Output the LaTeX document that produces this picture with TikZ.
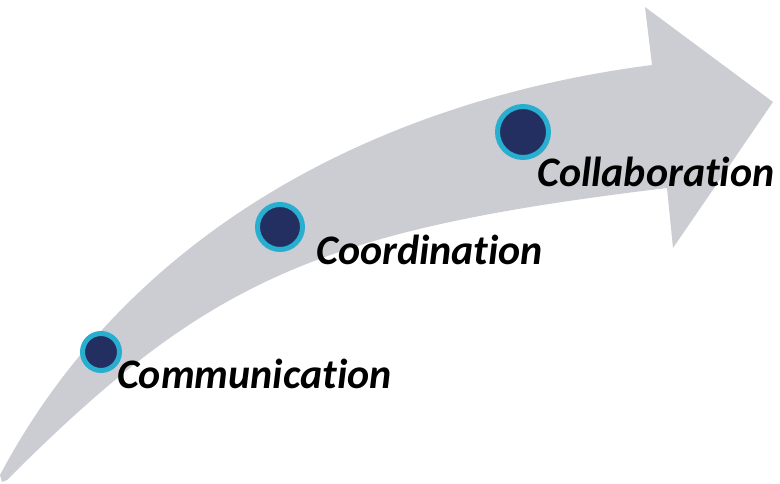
\documentclass[tikz,border=0pt]{standalone}
\usepackage{fontspec}
\setmainfont{Carlito}[Ligatures=NoCommon]
\definecolor{bandgray}{RGB}{204,205,211}
\definecolor{dotnavy}{RGB}{35,47,97}
\definecolor{dotcyan}{RGB}{40,174,206}
\begin{document}
\begin{tikzpicture}[x=1pt,y=-1pt,
  dot/.style={circle,fill=dotnavy,draw=dotcyan,line width=5pt,inner sep=0pt},
  lbl/.style={anchor=base west,inner sep=0pt,font=\fontsize{42}{50}\selectfont\bfseries\itshape}]
\useasboundingbox(0,0)rectangle(780,484);
\fill[bandgray](2,482)--(0,475).. controls (130,230) and (380,100) ..(652,65)--(645,7)--(773,102)--(673,248)--(667,188).. controls (317,230) and (207,280) ..(7,480)--cycle;
\node[dot,minimum size=37pt](comm)at(101,352){};
\node[dot,minimum size=45pt](coord)at(280,227){};
\node[dot,minimum size=51pt](collab)at(523,132){};
\node[lbl](commtext)at(117,388){Communication};
\node[lbl](coordtext)at(316,265){Coordination};
\node[lbl](collabtext)at(537,187){Collaboration};
\end{tikzpicture}
\end{document}
